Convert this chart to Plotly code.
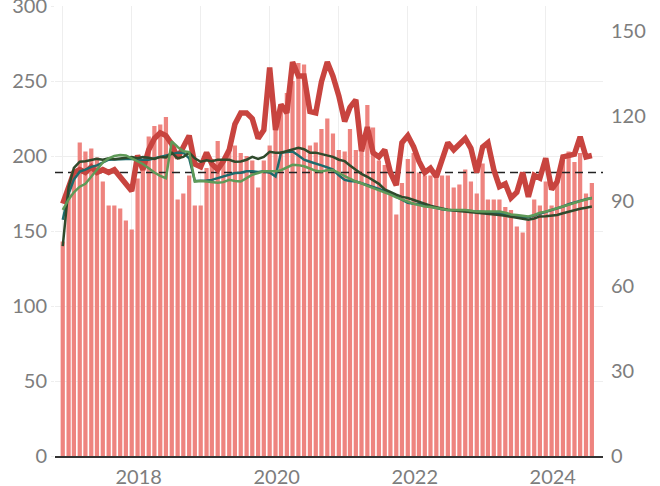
import pandas as pd
import plotly.graph_objects as go

months = pd.date_range("2017-01-01", periods=93, freq="MS")

bars_left = [143,175,190,209,203,205,199,183,167,167,165,157,
             151,185,197,213,220,221,226,205,171,175,187,167,
             167,192,198,210,196,206,207,202,200,197,179,197,
             207,224,231,242,250,262,261,207,209,218,225,215,
             204,203,218,204,203,234,219,197,194,175,161,182,
             198,202,189,187,187,186,187,187,179,181,191,183,
             175,195,171,171,171,166,164,153,149,157,171,167,
             183,167,182,201,203,196,202,175,182]

red_index = [89,95,100,101,100,102,100,101,100,101,98.5,96,
             93.5,106,101,108,112,114,113,110,105,109,113,103,
             102,107,103,101,104,108,117,121,121,119,112,115,
             137,115,124,121,139,134,134,121.5,121,132,139,134,
             127,118,123,125.6,107.5,116,107,105.5,108,100,95.5,110.5,
             113,109,104,100,101.5,98.5,104,110.5,108,110,112,108.5,
             100,109,110.5,101,95,96,91,93,100,91.4,99,98,
             105,94,96.7,105.5,106,106.5,112.6,105.5,106]

dark_green = [74,95,101.6,103.8,104,104.3,104.8,104.5,105,104.7,105,105.3,
              105.5,105,105.5,105.2,104.8,105.5,105.3,107,105,105.5,107,105,
              103.8,104.3,104,104.5,104.5,104.5,103.8,103.9,104.5,105.5,104.8,105.5,
              107.3,107,107,107.5,108.2,108.7,108.2,107,107,106.5,106,105.5,
              104.5,104,102.5,101,99.5,98.5,97.4,96,94,93,92.2,91.4,
              91,90.3,89.6,89,88.3,87.8,87.3,86.9,86.6,86.4,86.2,86.1,
              86,85.8,85.5,85.3,85,84.7,84.3,84,83.6,83.3,83.8,84.5,
              84.6,84.8,85,85.6,86.2,86.8,87.2,87.6,88]

teal = [83.3,92.5,97.5,100.3,101,102,102.5,103.5,104.5,104.6,104.8,104.8,
        104.8,104.6,104.5,104.5,105,105.5,106.2,106.5,107,107,105,97,
        97,97.2,97.4,98,98.6,99.2,99.8,99.9,100.4,100.4,100.2,100.4,
        100,98.6,107,107.2,107.4,106,104.5,103.8,103,102.5,101.8,101,
        99,97.4,97,96.8,96.2,95.6,95,94.2,93.5,92.8,91.5,90.3,
        89.3,89,88.8,88.6,88,87.5,87,86.8,86.6,86.6,86.6,86.3,
        86.2,86.1,86,85.8,85.6,85.2,84.8,84.5,84.2,84.2,84.8,85.6,
        86.2,86.8,87.3,88,88.8,89.5,90,90.6,91]

light_green = [86.8,90.5,93,95,96,98.5,101,103.5,105,105.8,106.2,106,
               105,104,103,101.5,100,98.8,98,111,109,107.5,107.2,96.8,
               97,96.8,96.6,96.4,96.6,97.4,97,96.8,98,99.2,99.8,100.4,
               100.4,100.4,100.8,101.8,102.7,102.6,102.2,101.4,100.6,100.4,100.8,100.9,
               99.8,98.5,97.8,96.8,96.2,95.3,94.6,93.8,93,92.2,91.2,90.4,
               89.8,89,88.5,88,87.8,87.5,87.2,86.8,86.8,86.8,86.8,86.5,
               86.2,86.2,86.2,86.2,86.2,85.8,85.2,85,84.8,84.5,85,85.8,
               86.2,86.8,87.2,87.8,88.6,89.3,90,90.5,91]

BASE = 100
X_RANGE = ["2016-11-21", "2024-10-30"]
LEFT_RANGE = [0, 300]
RIGHT_RANGE = [0, 300 * 100 / 189]

FONT = "Lato, 'Open Sans', sans-serif"
GREY = "#7d7d7d"
GRID = "#eeeeee"

fig = go.Figure()
fig.add_trace(go.Bar(x=months, y=bars_left, marker=dict(color="#EE847F", line=dict(width=0)),
                     yaxis="y", showlegend=False))
fig.add_trace(go.Scatter(x=X_RANGE, y=[BASE, BASE], mode="lines", yaxis="y2",
                         line=dict(color="#222222", width=1.5, dash="8px,5px"), showlegend=False))
fig.add_trace(go.Scatter(x=months, y=red_index, mode="lines", yaxis="y2",
                         line=dict(color="#C8443F", width=5.5), showlegend=False))
fig.add_trace(go.Scatter(x=months, y=teal, mode="lines", yaxis="y2",
                         line=dict(color="#1D6B6C", width=2.5), showlegend=False))
fig.add_trace(go.Scatter(x=months, y=dark_green, mode="lines", yaxis="y2",
                         line=dict(color="#2F4A2C", width=2.5), showlegend=False))
fig.add_trace(go.Scatter(x=months, y=light_green, mode="lines", yaxis="y2",
                         line=dict(color="#5F9A58", width=2.5), showlegend=False))

fig.update_layout(
    width=660, height=486,
    margin=dict(l=55, r=57, t=6, b=30, autoexpand=False),
    paper_bgcolor="white", plot_bgcolor="white",
    font=dict(family=FONT, size=20, color=GREY),
    bargap=0.2,
    xaxis=dict(type="date", range=X_RANGE, dtick="M24", tick0="2018-01-01",
               tickformat="%Y", showgrid=True, gridcolor=GRID, gridwidth=1,
               ticks="outside", ticklen=2, tickcolor="rgba(0,0,0,0)",
               ticklabelshift=7, automargin=False,
               showline=True, linecolor="#333333", linewidth=2,
               minor=dict(dtick="M12", tick0="2017-01-01", showgrid=True,
                          gridcolor=GRID, gridwidth=1),
               zeroline=False),
    yaxis=dict(range=LEFT_RANGE, dtick=50, showgrid=True, gridcolor=GRID, gridwidth=1,
               ticks="outside", ticklen=3, tickcolor=GRID, zeroline=False,
               automargin=False, ticklabeloverflow="allow"),
    yaxis2=dict(range=RIGHT_RANGE, dtick=30, overlaying="y", side="right",
                showgrid=False, zeroline=False, ticks="outside", ticklen=3,
                tickcolor="rgba(0,0,0,0)", automargin=False),
)

post = ("document.documentElement.style.margin='0';"
        "document.body.style.margin='0';document.body.style.padding='0';"
        "document.body.style.overflow='hidden';")

fig.write_html("out.html", post_script=post, config={"displayModeBar": False})
